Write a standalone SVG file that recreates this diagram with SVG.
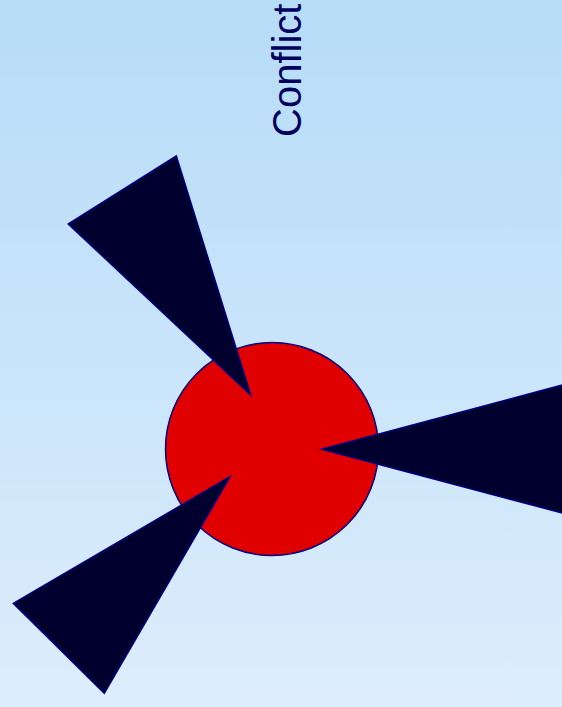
<svg xmlns="http://www.w3.org/2000/svg" width="562" height="707" viewBox="0 0 562 707">
<style>
.spike{fill:#00002e;stroke:#000080;stroke-width:1.5;stroke-linejoin:miter}
.lbl{font-family:"Liberation Sans",Arial,sans-serif;font-size:40px;fill:#00005e}
</style>
<defs>
<linearGradient id="bg" x1="0" y1="0" x2="0" y2="1">
<stop offset="0" stop-color="#b6dcf8"/>
<stop offset="1" stop-color="#ddedfc"/>
</linearGradient>
</defs>
<rect x="0" y="0" width="562" height="707" fill="url(#bg)"/>
<g id="title"><text class="lbl" transform="translate(300.5,137) rotate(-90)">Conflict</text></g>
<g id="core"><circle cx="272" cy="449" r="106.5" fill="#e00000" stroke="#000080" stroke-width="1.5"/></g>
<g id="connectors">
<polygon id="spike-top" class="spike" points="68.3,224 176.3,156 250.7,395"/>
<polygon id="spike-right" class="spike" points="321.7,449.3 600,375 600,523"/>
<polygon id="spike-bottom" class="spike" points="230,476.7 13.3,603.3 104.3,693.3"/>
</g>
</svg>
